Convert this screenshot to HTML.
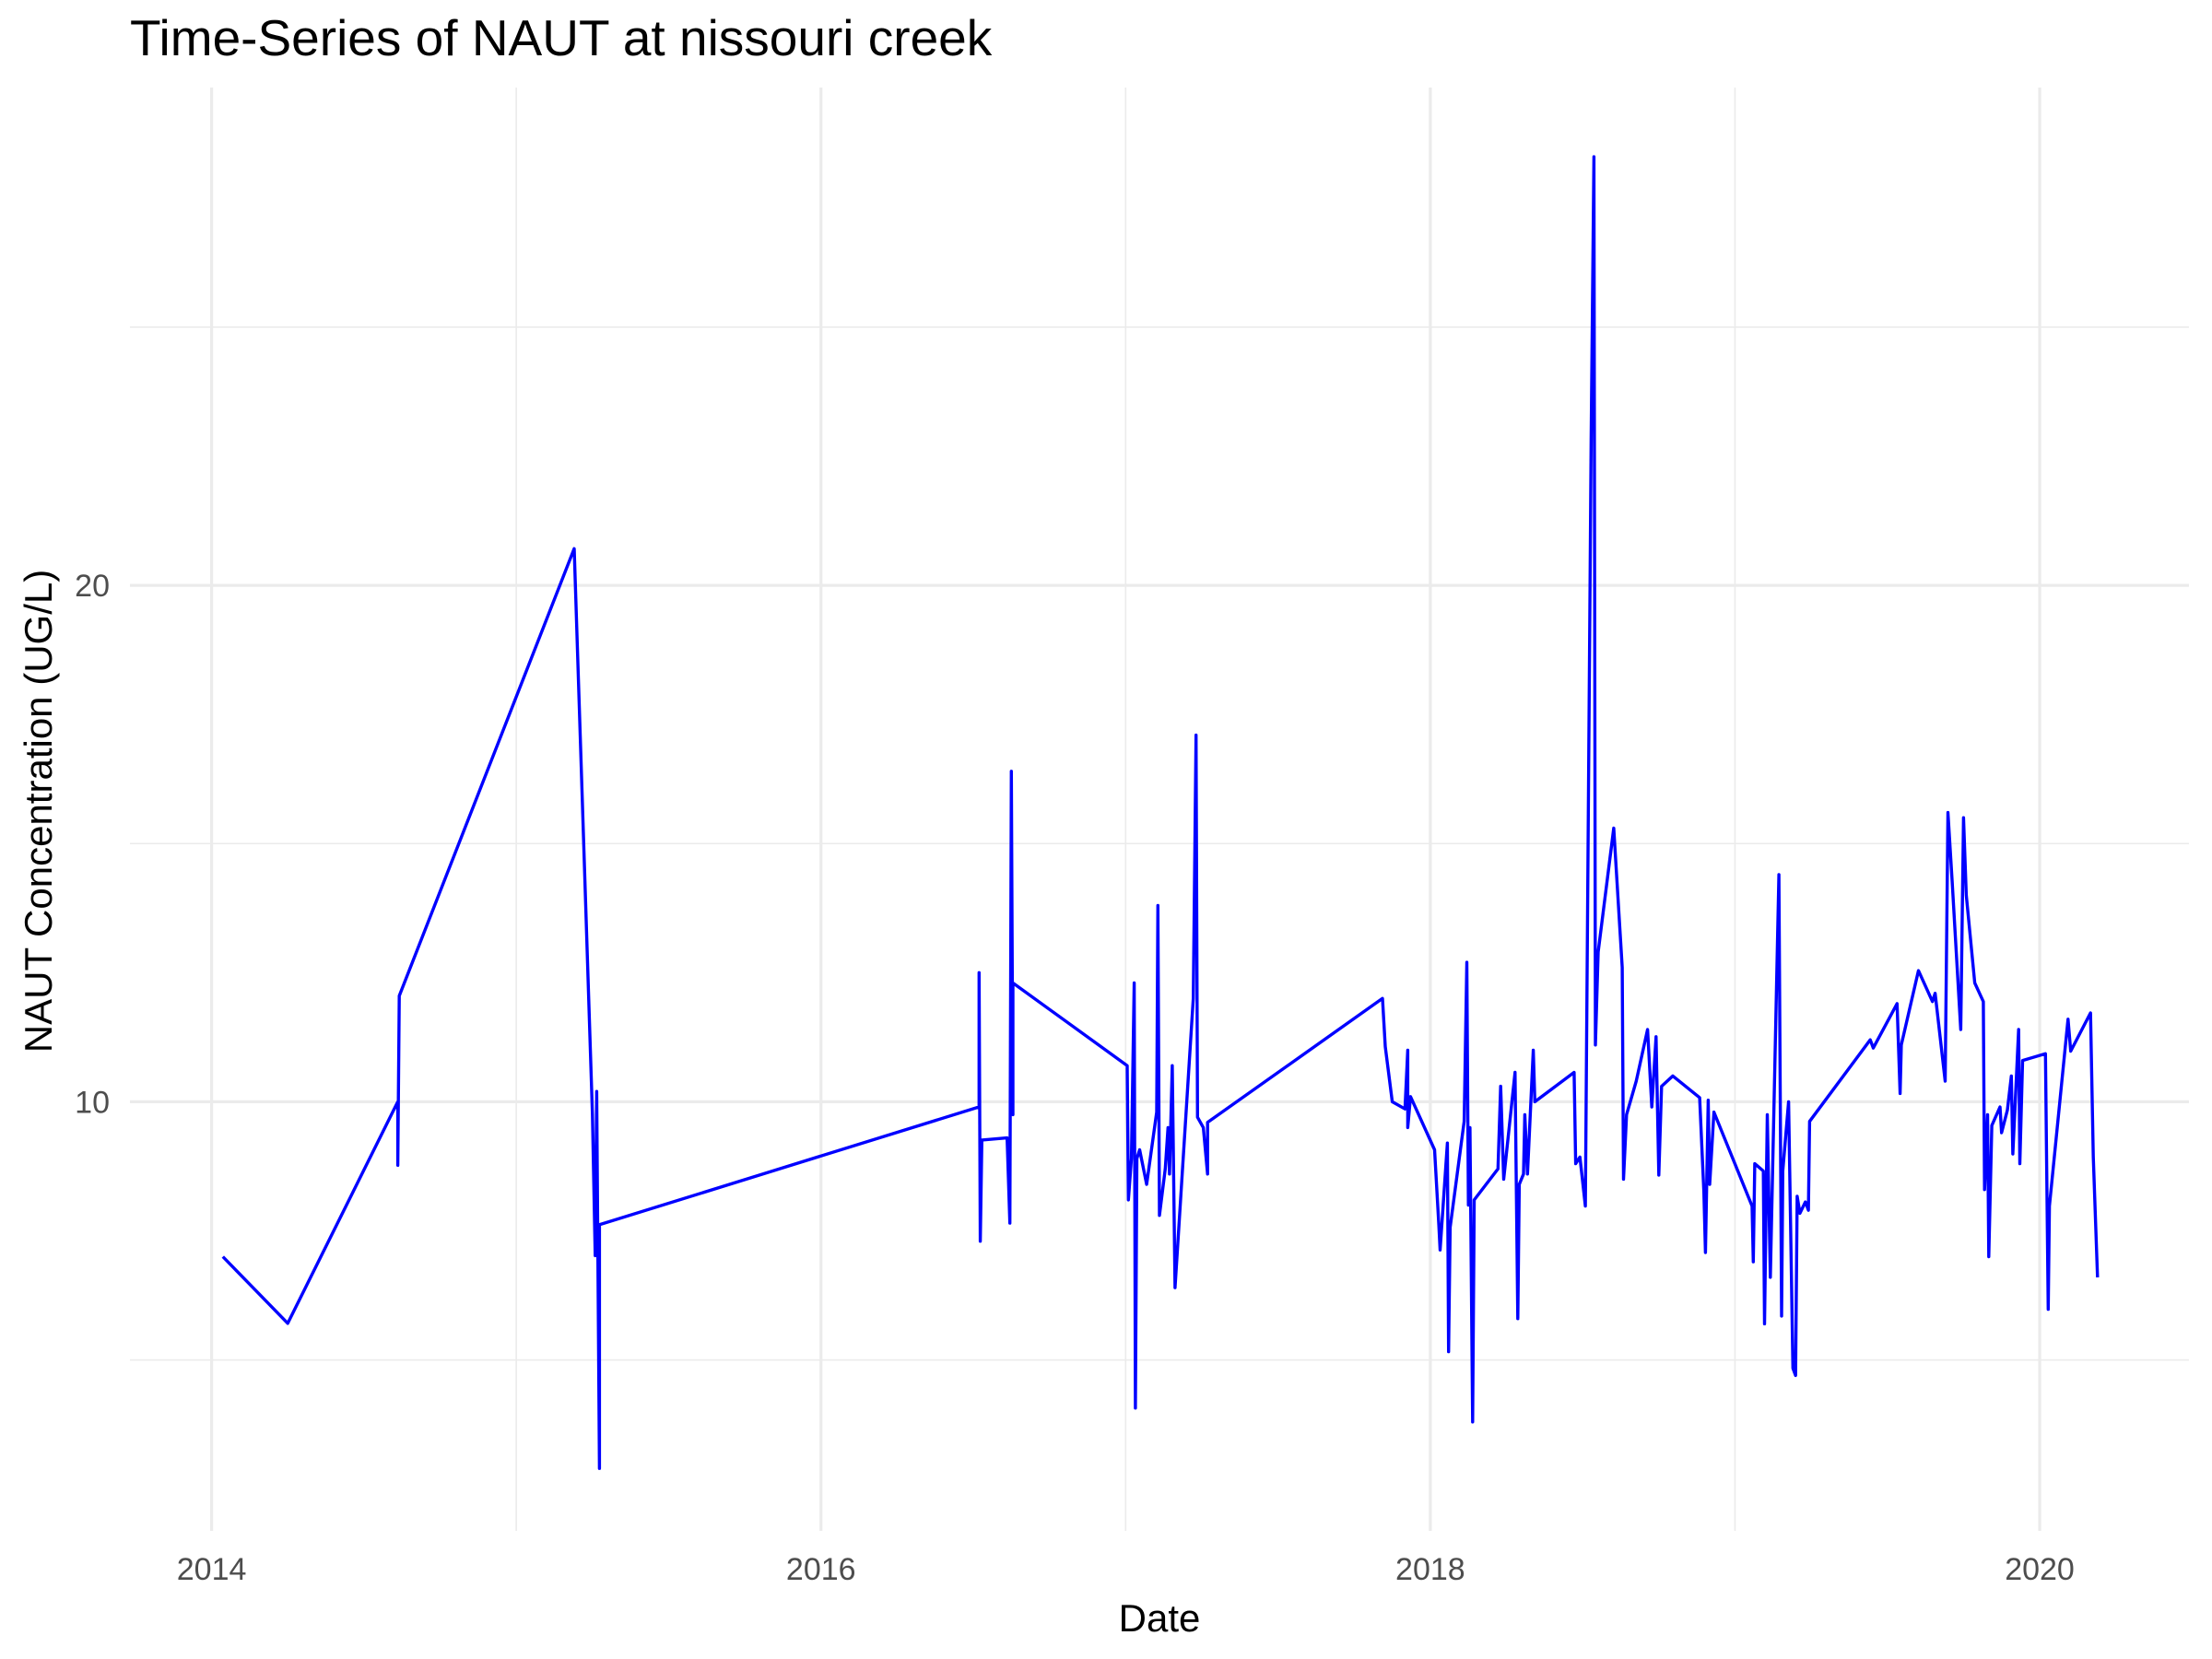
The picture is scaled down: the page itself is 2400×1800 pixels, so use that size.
<!DOCTYPE html>
<html><head><meta charset="utf-8"><style>
html,body{margin:0;padding:0;background:#fff;}
svg{display:block;font-family:"Liberation Sans",sans-serif;}
</style></head><body>
<svg id="chart" width="2400" height="1800" viewBox="0 0 2400 1800">
<text x="141" y="60" font-size="55" fill="#000">Time-Series of NAUT at nissouri creek</text>
<g id="grid"></g>
<g id="series"></g>
<g id="ticks"></g>
<text x="1258" y="1770" font-size="42" text-anchor="middle" fill="#000">Date</text>
<text transform="translate(56,880) rotate(-90)" font-size="42" text-anchor="middle" fill="#000">NAUT Concentration (UG/L)</text>
</svg>
<script>
const years=[2014.037,2014.250,2014.611,2014.611,2014.616,2015.190,2015.250,2015.259,2015.264,2015.273,2015.273,2016.519,2016.519,2016.523,2016.528,2016.611,2016.620,2016.625,2016.630,2016.630,2017.005,2017.009,2017.019,2017.028,2017.032,2017.037,2017.046,2017.069,2017.102,2017.106,2017.111,2017.130,2017.139,2017.144,2017.153,2017.162,2017.222,2017.231,2017.236,2017.255,2017.269,2017.269,2017.843,2017.852,2017.875,2017.917,2017.926,2017.926,2017.935,2018.014,2018.028,2018.032,2018.056,2018.060,2018.065,2018.111,2018.120,2018.125,2018.130,2018.139,2018.144,2018.222,2018.231,2018.241,2018.278,2018.287,2018.292,2018.306,2018.310,2018.319,2018.338,2018.343,2018.472,2018.477,2018.491,2018.509,2018.528,2018.537,2018.542,2018.551,2018.602,2018.630,2018.634,2018.644,2018.676,2018.713,2018.727,2018.741,2018.750,2018.759,2018.796,2018.884,2018.898,2018.903,2018.912,2018.917,2018.931,2019.056,2019.060,2019.065,2019.093,2019.097,2019.106,2019.116,2019.144,2019.153,2019.157,2019.176,2019.190,2019.199,2019.204,2019.213,2019.231,2019.241,2019.245,2019.444,2019.454,2019.532,2019.542,2019.546,2019.602,2019.648,2019.657,2019.690,2019.699,2019.713,2019.741,2019.750,2019.759,2019.787,2019.815,2019.819,2019.829,2019.833,2019.843,2019.870,2019.875,2019.894,2019.907,2019.912,2019.931,2019.935,2019.944,2020.019,2020.028,2020.032,2020.093,2020.102,2020.167,2020.176,2020.190];
const values=[7.0,5.71,10.0,8.77,12.05,20.71,9.75,7.02,10.2,2.9,7.62,9.9,12.5,7.3,9.26,9.3,7.65,16.4,9.75,12.3,10.7,8.1,8.9,12.3,4.07,8.9,9.07,8.4,9.8,13.8,7.8,8.7,9.5,8.6,10.7,6.4,12.0,17.1,9.7,9.5,8.6,9.6,12.0,11.07,10.0,9.86,11.0,9.5,10.1,9.07,7.62,7.13,9.2,5.16,7.57,9.62,12.7,8.0,9.5,3.8,8.1,8.7,10.3,8.5,10.57,5.8,8.4,8.6,9.75,8.6,11.0,10.0,10.57,8.8,8.93,7.98,22.87,28.3,11.1,12.9,15.3,12.6,8.5,9.75,10.4,11.4,9.9,11.26,8.58,10.3,10.5,10.08,8.25,7.08,10.03,8.4,9.8,7.98,6.9,8.8,8.66,5.7,9.75,6.6,14.4,5.85,8.66,10.0,4.84,4.7,8.17,7.84,8.06,7.9,9.62,11.2,11.04,11.9,10.16,11.1,12.54,11.94,12.1,10.4,15.6,14.26,11.4,15.5,14.0,12.3,11.94,8.3,9.75,7.0,9.54,9.9,9.4,9.84,10.5,8.99,11.4,8.8,10.8,10.93,5.98,7.98,11.6,10.98,11.72,8.93,6.6];
const xTicks=[2014,2016,2018,2020];
const xMinor=[2015,2017,2019];
const yTicks=[10,20];
const yMinor=[5,15,25];
const NS="http://www.w3.org/2000/svg";
const PL=141,PR=2375,PT=95,PB=1661;
const X0=2013.732,X1=2020.49,Y0=1.69,Y1=29.64;
function sx(v){return PL+(v-X0)/(X1-X0)*(PR-PL);}
function sy(v){return PB-(v-Y0)/(Y1-Y0)*(PB-PT);}
function mk(tag,attrs,parent){const e=document.createElementNS(NS,tag);for(const k in attrs)e.setAttribute(k,attrs[k]);parent.appendChild(e);return e;}
const grid=document.getElementById('grid'),ticks=document.getElementById('ticks'),series=document.getElementById('series');
yMinor.forEach(v=>{const l=mk('line',{x1:PL,x2:PR,y1:sy(v),y2:sy(v),stroke:'#ebebeb','stroke-width':1.6},grid);

});
xMinor.forEach(v=>{const l=mk('line',{x1:sx(v),x2:sx(v),y1:PT,y2:PB,stroke:'#ebebeb','stroke-width':1.6},grid);

});
yTicks.forEach(v=>{const l=mk('line',{x1:PL,x2:PR,y1:sy(v),y2:sy(v),stroke:'#ebebeb','stroke-width':3.2},grid);


const t=mk('text',{x:119,y:sy(v)+12,'font-size':34,'text-anchor':'end',fill:'#4d4d4d'},ticks);t.textContent=v;

});
xTicks.forEach(v=>{const l=mk('line',{x1:sx(v),x2:sx(v),y1:PT,y2:PB,stroke:'#ebebeb','stroke-width':3.2},grid);


const t=mk('text',{x:sx(v),y:1714,'font-size':34,'text-anchor':'middle',fill:'#4d4d4d'},ticks);t.textContent=v;

});
const pts=years.map((y,i)=>sx(y).toFixed(1)+','+sy(values[i]).toFixed(1)).join(' ');
const line=mk('polyline',{points:pts,fill:'none',stroke:'#0000ff','stroke-width':3.4,'stroke-linejoin':'round'},series);


</script>
</body></html>
